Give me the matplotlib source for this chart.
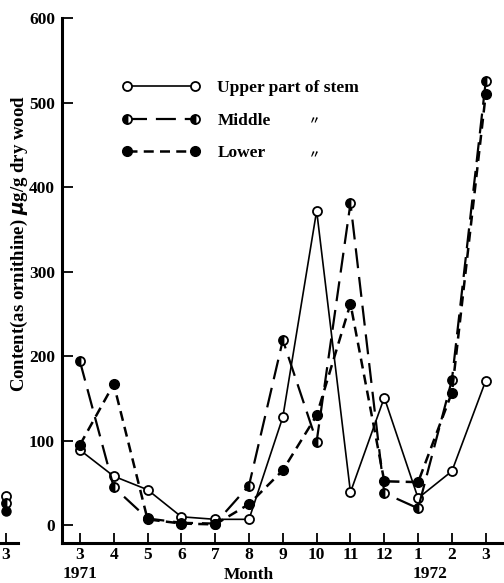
import numpy as np
import matplotlib
matplotlib.use("Agg")
import matplotlib.pyplot as plt

plt.rcParams["font.family"] = ["Liberation Serif", "DejaVu Serif"]
plt.rcParams["font.weight"] = "bold"

# ===== Dados: ornitina no caule, mar/1971 - mar/1972 =====
months = ["3", "4", "5", "6", "7", "8", "9", "10", "11", "12", "1", "2", "3"]
upper  = [89, 58, 42, 10, 7, 7, 128, 372, 39, 151, 32, 64, 171]
middle = [194, 45, 8, 3, 2, 47, 219, 99, 381, 38, 20, 172, 525]
lower  = [95, 167, 7, 2, 1, 25, 65, 130, 262, 52, 51, 157, 510]

# pedaço do painel vizinho (só o último mês aparece)
prev_month = ["3"]
prev_upper  = [35]
prev_middle = [26]
prev_lower  = [17]

yticks = [0, 100, 200, 300, 400, 500, 600]

W, H = 504, 583
fig = plt.figure(figsize=(W / 100, H / 100), dpi=100)
ax = fig.add_axes([62 / W, 1 - 543 / H, 1 - 62 / W, (543 - 18) / H])

x = np.arange(len(months))
ms = 6.5
ax.plot(x, upper, "-", color="black", lw=1.2, marker="o", ms=ms,
        mfc="white", mec="black", mew=1.3, label="Upper part of stem", zorder=3)
ax.plot(x, middle, color="black", lw=1.6, dashes=(9, 4), marker="o", ms=ms,
        fillstyle="left", mfc="black", mfcalt="white", mec="black", mew=1.3,
        label="Middle", zorder=4)
ax.plot(x, lower, color="black", lw=1.8, dashes=(4, 2.5), marker="o", ms=ms + 0.5,
        mfc="black", mec="black", label="Lower", zorder=5)

ax.set_xlim(-0.53, 12.54)
ax.set_ylim(-21, 600)
ax.set_xticks(x)
ax.set_xticklabels(months)
ax.set_yticks(yticks)
ax.set_yticklabels([str(v) for v in yticks])

for s in ["top", "right"]:
    ax.spines[s].set_visible(False)
for s in ["left", "bottom"]:
    ax.spines[s].set_linewidth(2.2)
ax.tick_params(axis="y", direction="in", length=8, width=1.3, labelsize=12.5, pad=5)
ax.tick_params(axis="x", direction="in", length=7, width=1.3, labelsize=12.5, pad=3)

ax.set_ylabel("Content(as ornithine) $\\mu$g/g dry wood", fontsize=13.5,
              fontweight="bold")
ax.yaxis.set_label_coords(-0.072, 0.57)

# anos e rótulo do eixo x
xt = ax.get_xaxis_transform()
ax.text(0, -0.043, "1971", transform=xt, ha="center", va="top",
        fontsize=12.5, fontweight="bold")
ax.text(10.35, -0.043, "1972", transform=xt, ha="center", va="top",
        fontsize=12.5, fontweight="bold")
ax.text(5.0, -0.045, "Month", transform=xt, ha="center", va="top",
        fontsize=12.5, fontweight="bold")

ax.legend(loc="upper left", bbox_to_anchor=(0.10, 0.912), frameon=False,
          numpoints=2, handlelength=4.5, handletextpad=1.0,
          labelspacing=0.95, prop={"size": 12.5, "weight": "bold"})
# aspas de "idem" nas linhas Middle e Lower
for yy in (0.805, 0.740):
    ax.text(0.57, yy, "\u3003", transform=ax.transAxes, fontsize=8,
            family=["Noto Sans CJK JP", "DejaVu Sans"], ha="center", va="center")

# painel vizinho cortado na borda esquerda
ax0 = fig.add_axes([0, 1 - 543 / H, 18 / W, (543 - 18) / H])
px = np.arange(len(prev_month)) + 12
ax0.plot(px, prev_upper, "o", ms=ms, mfc="white", mec="black", mew=1.3, zorder=3)
ax0.plot(px, prev_middle, "o", ms=ms, fillstyle="left", mfc="black",
         mfcalt="white", mec="black", mew=1.3, zorder=4)
ax0.plot(px, prev_lower, "o", ms=ms, mfc="black", mec="black", zorder=5)
ax0.set_xlim(11.85, 12.33)
ax0.set_ylim(-21, 600)
ax0.set_xticks(px)
ax0.set_xticklabels(prev_month)
ax0.set_yticks([])
for s in ["top", "right", "left"]:
    ax0.spines[s].set_visible(False)
ax0.spines["bottom"].set_linewidth(2.2)
ax0.tick_params(axis="x", direction="in", length=7, width=1.3, labelsize=12.5, pad=3)
ax0.patch.set_alpha(0)

fig.savefig("out.png", dpi=100)
